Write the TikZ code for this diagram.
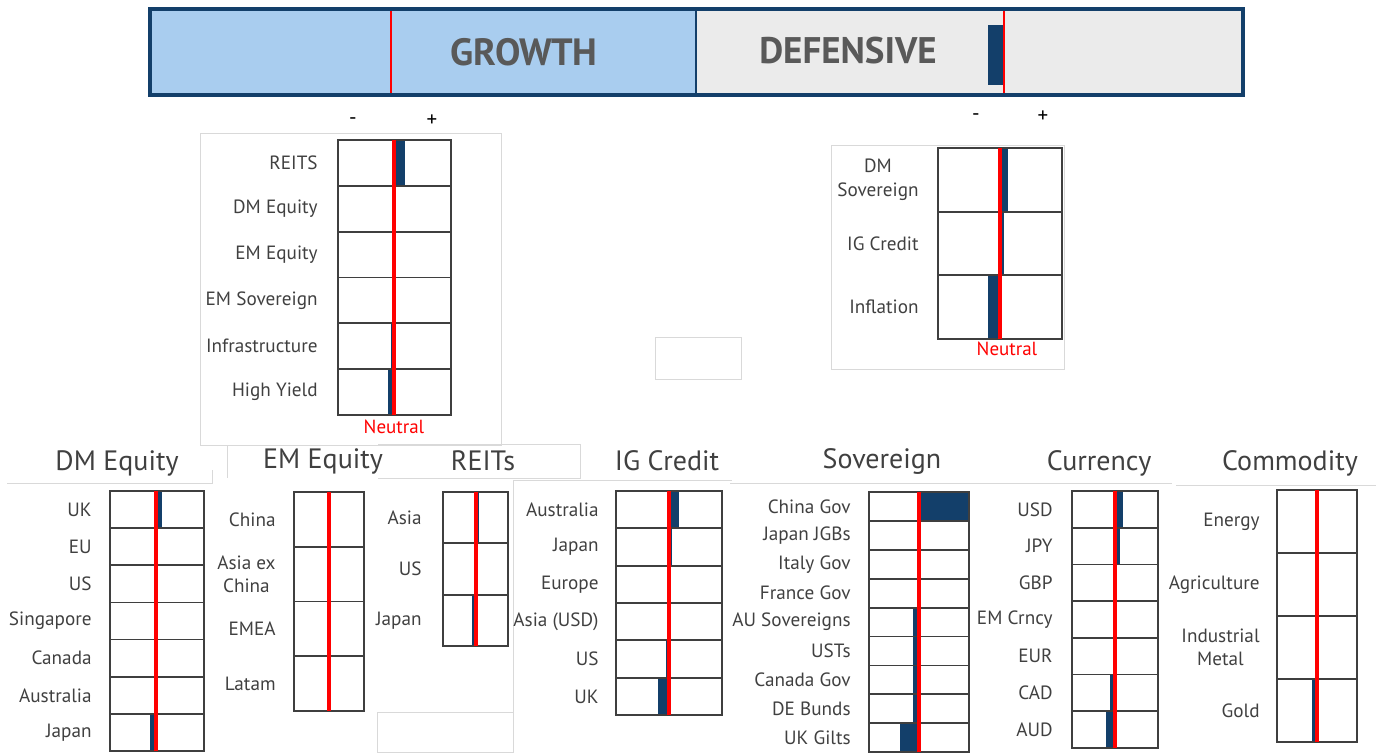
\documentclass[tikz,border=0pt]{standalone}
\usepackage{fontspec}
\setmainfont{PT Sans}
\usetikzlibrary{positioning}
\definecolor{navy}{HTML}{133F6A}
\definecolor{edge}{HTML}{3F3F3F}
\definecolor{txt}{HTML}{404040}
\definecolor{growthblue}{HTML}{A9CDEF}
\definecolor{defgray}{HTML}{EBEBEB}
\definecolor{frame}{HTML}{D9D9D9}

\begin{document}
\begin{tikzpicture}[x=0.5pt,y=-0.5pt,
  cell/.style={draw=edge,line width=0.9pt},
  bar/.style={fill=navy},
  neutral/.style={draw=red,line width=1.7pt},
  lbl/.style={anchor=east,align=center,text=txt,font=\fontsize{9.6}{11.8}\selectfont,inner sep=0pt},
  ttl/.style={text=txt,font=\fontsize{14}{16}\selectfont,inner sep=0pt},
  pm/.style={font=\fontsize{10.5}{12}\selectfont,inner sep=0pt},
  faint/.style={draw=frame,line width=0.5pt}]
\useasboundingbox (0,0) rectangle (1376,752);

% faint frames
\draw[faint] (200,133) rectangle (501,445);
\draw[faint] (831,145) rectangle (1064,369);
\draw[faint] (655,337) rectangle (741,379);
\draw[faint] (7,483) -- (212,483) -- (212,470);
\draw[faint] (200,445) -- (227,445) -- (227,478);
\draw[faint] (378,444) -- (580,444) -- (580,478) -- (378,478);
\draw[faint] (513,480) -- (732,480);
\draw[faint] (513,480) -- (513,752);
\draw[faint] (730,483) -- (977,483);
\draw[faint] (975,483) -- (1172,483);
\draw[faint] (1176,485) -- (1376,485);
\draw[faint] (377,712) rectangle (513,752);

% top bar
\fill[growthblue] (150,9) rectangle (696,95);
\fill[defgray] (696,9) rectangle (1243,95);
\fill[bar] (988,25) rectangle (1003,85);
\draw[neutral,line width=1.2pt] (391,10) -- (391,94);
\draw[neutral,line width=1.4pt] (1004,10) -- (1004,94);
\draw[navy,line width=1.6pt] (150,9) rectangle (1243,95);
\draw[navy,line width=1pt] (696,9) -- (696,95);
\node[text=black!65,font=\bfseries\fontsize{19}{21}\selectfont] (growth) at (524,52) {GROWTH};
\node[text=black!65,font=\bfseries\fontsize{18.5}{21}\selectfont] (defensive) at (848,51) {DEFENSIVE};

\node[pm] (minusG) at (353,121) {-};
\node[pm] (plusG) at (432,121) {+};
\node[pm] (minusD) at (976,117) {-};
\node[pm] (plusD) at (1043,117) {+};

% growth
\foreach \lab/\bs/\be [count=\i] in {REITS/394/405, DM Equity/394/394, EM Equity/394/394,
    EM Sovereign/394/394, Infrastructure/391/394, High Yield/388/394} {
  \pgfmathsetmacro\yt{140+(\i-1)*45.83}
  \fill[bar] (\bs,\yt) rectangle (\be,\yt+45.83);
  \draw[cell] (338,\yt) rectangle (451,\yt+45.83);
  \node[lbl] (gr\i) at (318,\yt+22.9) {\lab};
}
\draw[neutral] (394,140) -- (394,415);
\node[text=red,font=\fontsize{9.5}{11}\selectfont,inner sep=0pt] (neutralG) at (394,427) {Neutral};

% defensive
\foreach \lab/\bs/\be [count=\i] in {{DM\\Sovereign}/1000/1008, IG Credit/1000/1004, Inflation/988/1000} {
  \pgfmathsetmacro\yt{148+(\i-1)*63.67}
  \fill[bar] (\bs,\yt) rectangle (\be,\yt+63.67);
  \draw[cell] (938,\yt) rectangle (1062,\yt+63.67);
  \node[lbl] (df\i) at (919,\yt+31.8) {\lab};
}
\draw[neutral] (1000,148) -- (1000,339);
\node[text=red,font=\fontsize{9.5}{11}\selectfont,inner sep=0pt] (neutralD) at (1007,349) {Neutral};

% DM Equity
\node[ttl] (tDM) at (117,463) {DM Equity};
\foreach \lab/\bs/\be [count=\i] in {UK/156/162, EU/156/156, US/156/156, Singapore/156/156,
    Canada/156/156, Australia/156/156, Japan/150/156} {
  \pgfmathsetmacro\yt{491+(\i-1)*37.14}
  \fill[bar] (\bs,\yt) rectangle (\be,\yt+37.14);
  \draw[cell] (110,\yt) rectangle (204,\yt+37.14);
  \node[lbl] (dm\i) at (92,\yt+18.6) {\lab};
}
\draw[neutral] (156,491) -- (156,751);

% EM Equity
\node[ttl] (tEM) at (323,461) {EM Equity};
\foreach \lab [count=\i] in {China, {Asia ex\\China}, EMEA, Latam} {
  \pgfmathsetmacro\yt{492+(\i-1)*54.75}
  \draw[cell] (294,\yt) rectangle (364,\yt+54.75);
  \node[lbl] (em\i) at (276,\yt+27.4) {\lab};
}
\draw[neutral] (329,492) -- (329,711);

% REITs
\node[ttl] (tRE) at (483,461) {REITs};
\foreach \lab/\bs/\be [count=\i] in {Asia/476/479, US/476/476, Japan/472/476} {
  \pgfmathsetmacro\yt{492+(\i-1)*51.33}
  \fill[bar] (\bs,\yt) rectangle (\be,\yt+51.33);
  \draw[cell] (443,\yt) rectangle (508,\yt+51.33);
  \node[lbl] (re\i) at (422,\yt+25.7) {\lab};
}
\draw[neutral] (476,492) -- (476,646);

% IG Credit
\node[ttl] (tIG) at (667,461) {IG Credit};
\foreach \lab/\bs/\be [count=\i] in {Australia/669/679, Japan/669/672, Europe/669/669,
    Asia (USD)/669/669, US/666/669, UK/658/669} {
  \pgfmathsetmacro\yt{491+(\i-1)*37.33}
  \fill[bar] (\bs,\yt) rectangle (\be,\yt+37.33);
  \draw[cell] (616,\yt) rectangle (722,\yt+37.33);
  \node[lbl] (ig\i) at (599,\yt+18.7) {\lab};
}
\draw[neutral] (669,491) -- (669,715);

% Sovereign
\node[ttl] (tSO) at (882,461) {Sovereign};
\foreach \lab/\bs/\be [count=\i] in {China Gov/921/969, Japan JGBs/919/919, Italy Gov/919/919,
    France Gov/917/919, AU Sovereigns/913/919, USTs/913/919, Canada Gov/913/919,
    DE Bunds/913/919, UK Gilts/900/919} {
  \pgfmathsetmacro\yt{492+(\i-1)*28.9}
  \fill[bar] (\bs,\yt) rectangle (\be,\yt+28.9);
  \draw[cell] (869,\yt) rectangle (969,\yt+28.9);
  \node[lbl] (so\i) at (851,\yt+14.5) {\lab};
}
\draw[neutral] (919,492) -- (919,752);

% Currency
\node[ttl] (tCU) at (1099,463) {Currency};
\foreach \lab/\bs/\be [count=\i] in {USD/1115/1123, JPY/1115/1120, GBP/1115/1117, EM Crncy/1115/1115,
    EUR/1113/1115, CAD/1110/1115, AUD/1106/1115} {
  \pgfmathsetmacro\yt{491+(\i-1)*36.7}
  \fill[bar] (\bs,\yt) rectangle (\be,\yt+36.7);
  \draw[cell] (1072,\yt) rectangle (1158,\yt+36.7);
  \node[lbl] (cu\i) at (1053,\yt+18.4) {\lab};
}
\draw[neutral] (1115,491) -- (1115,748);

% Commodity
\node[ttl] (tCO) at (1290,463) {Commodity};
\foreach \lab/\bs/\be [count=\i] in {Energy/1317/1319, Agriculture/1317/1317,
    {Industrial\\Metal}/1315/1317, Gold/1312/1317} {
  \pgfmathsetmacro\yt{490+(\i-1)*63}
  \fill[bar] (\bs,\yt) rectangle (\be,\yt+63);
  \draw[cell] (1277,\yt) rectangle (1357,\yt+63);
  \node[lbl] (co\i) at (1260,\yt+31.5) {\lab};
}
\draw[neutral] (1317,490) -- (1317,742);
\end{tikzpicture}
\end{document}
